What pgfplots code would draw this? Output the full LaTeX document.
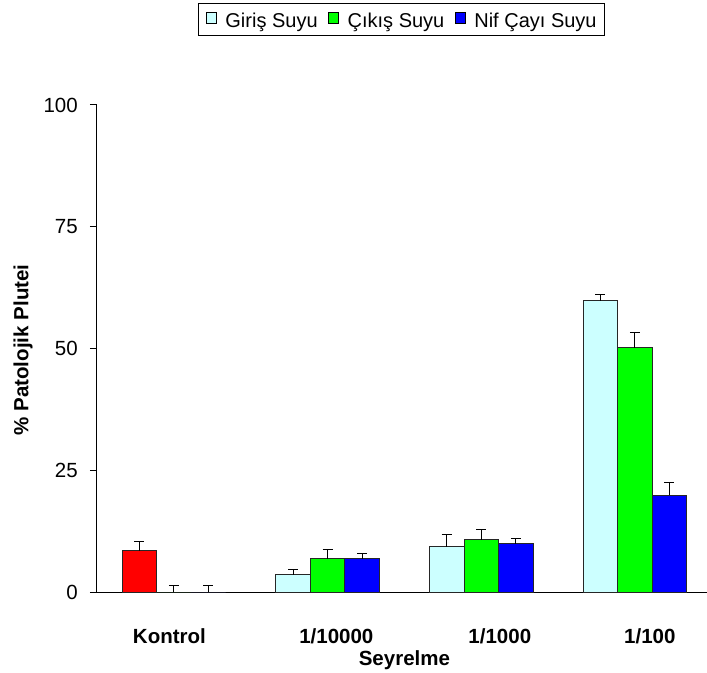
\documentclass[border=0pt]{standalone}
\usepackage{pgfplots}
\pgfplotsset{compat=1.18}
\usepackage{fontspec}
\setmainfont{Liberation Sans}
\definecolor{cgir}{RGB}{204,255,255}
\definecolor{ccik}{RGB}{0,255,0}
\definecolor{cnif}{RGB}{0,0,255}
\definecolor{ckon}{RGB}{255,0,0}
\begin{document}
\begin{tikzpicture}
\path[use as bounding box] (-97bp,-81bp) rectangle (610bp,592bp);
\begin{axis}[
  scale only axis,
  width=614.8bp, height=487bp,
  xmin=-0.5, xmax=3.5, ymin=0, ymax=100,
  axis x line*=bottom, axis y line*=left,
  axis line style={black, line width=1bp},
  font=\fontsize{20.5bp}{24bp}\selectfont,
  /pgf/number format/assume math mode=true,
  ytick={0,25,50,75,100},
  tick align=outside,
  major tick length=7bp,
  tick style={black, line width=1bp},
  xtick={-0.029,1.057,2.121,3.097},
  xticklabels={Kontrol,1/10000,1/1000,1/100},
  x tick style={draw=none},
  xticklabel style={font=\fontsize{20.5bp}{24bp}\selectfont\bfseries, anchor=base, inner sep=0pt, yshift=-44.7bp},
  yticklabel style={anchor=east, inner sep=0pt, xshift=-12bp},
  xlabel={Seyrelme},
  xlabel style={at={(axis description cs:0.5,0)}, anchor=base, inner sep=0pt, yshift=-73bp, font=\fontsize{20.5bp}{24bp}\selectfont\bfseries},
  ylabel={\% Patolojik Plutei},
  ylabel style={at={(axis description cs:-0.1204,0.497)}, anchor=center, font=\fontsize{20.5bp}{24bp}\selectfont\bfseries},
  legend columns=3,
  legend style={at={(0.1643,1.2101)}, anchor=north west, draw=black, line width=0.8bp,
    inner xsep=8bp, inner ysep=6.5bp,
    font=\fontsize{20bp}{24bp}\selectfont,
    nodes={inner sep=0pt},
    /tikz/every odd column/.append style={column sep=9bp},
    /tikz/every even column/.append style={column sep=11bp}},
  mybar/.style={ybar, bar width=34.5bp, bar shift=0bp, draw=black!85, line width=0.8bp,
    error bars/y dir=plus, error bars/y explicit,
    error bars/error bar style={black, line width=1bp},
    error bars/error mark options={rotate=90, mark size=5bp, black, line width=1bp}},
  legend image code/.code={\path[use as bounding box, draw=none, fill=none] (0bp,0bp) rectangle (10bp,11bp);
    \draw[#1,draw=black,line width=0.8bp] (0bp,-3bp) rectangle (10bp,8bp);},
]
% x positions: category index + slot offset (-0.2245, 0, +0.2245)
\addplot[mybar, fill=ckon, forget plot] coordinates {
  (-0.2245,8.5) +- (0,1.8)
};
\addplot[mybar, fill=cgir] coordinates {
  (0.7755,3.55) +- (0,1.0)
  (1.7755,9.3) +- (0,2.5)
  (2.7755,59.8) +- (0,1.3)
};
\addplot[mybar, fill=ccik] coordinates {
  (0,0) +- (0,1.3)
  (1,6.8) +- (0,1.9)
  (2,10.7) +- (0,2.2)
  (3,50.2) +- (0,3.0)
};
\addplot[mybar, fill=cnif] coordinates {
  (0.2245,0) +- (0,1.3)
  (1.2245,6.8) +- (0,1.1)
  (2.2245,9.9) +- (0,1.1)
  (3.2245,19.9) +- (0,2.6)
};
\legend{Giriş Suyu, Çıkış Suyu, Nif Çayı Suyu}
\end{axis}
\end{tikzpicture}
\end{document}
